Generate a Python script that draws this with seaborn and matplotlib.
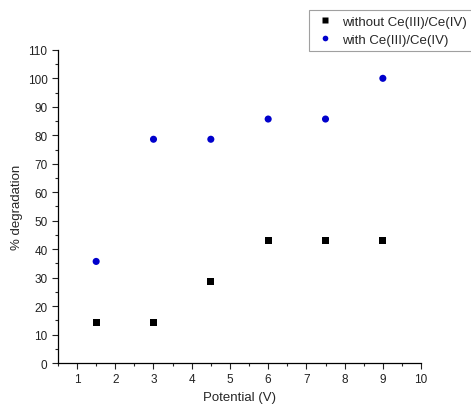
import matplotlib
matplotlib.use("Agg")
import matplotlib.pyplot as plt
import seaborn as sns
import pandas as pd
from matplotlib.ticker import MultipleLocator

# Data
potential = [1.5, 3.0, 4.5, 6.0, 7.5, 9.0]
without_ce = [14.3, 14.3, 28.6, 42.9, 42.9, 42.9]
with_ce = [35.7, 78.6, 78.6, 85.7, 85.7, 100.0]
series_names = ["without Ce(III)/Ce(IV)", "with Ce(III)/Ce(IV)"]

df = pd.DataFrame({
    "Potential": potential * 2,
    "Degradation": without_ce + with_ce,
    "Series": [series_names[0]] * len(potential) + [series_names[1]] * len(potential),
})

sns.set_style("ticks")
plt.rcParams["font.family"] = ["Liberation Sans", "DejaVu Sans"]

fig = plt.figure(figsize=(4.71, 4.10), dpi=100)
ax = fig.add_axes([0.123, 0.112, 0.771, 0.764])

sns.scatterplot(
    data=df, x="Potential", y="Degradation",
    hue="Series", style="Series",
    palette=["black", "#0000cc"],
    markers=["s", "o"],
    s=26, edgecolor="none", ax=ax, legend=True,
)

ax.set_xlim(0.5, 10)
ax.set_ylim(0, 110)
ax.xaxis.set_major_locator(MultipleLocator(1))
ax.xaxis.set_minor_locator(MultipleLocator(0.5))
ax.yaxis.set_major_locator(MultipleLocator(10))
ax.yaxis.set_minor_locator(MultipleLocator(5))
ax.tick_params(which="major", length=4, width=0.8, labelsize=8.5, colors="#222222")
ax.tick_params(which="minor", length=2.5, width=0.8)
sns.despine(ax=ax)
for sp in ["left", "bottom"]:
    ax.spines[sp].set_linewidth(0.9)
    ax.spines[sp].set_color("black")

ax.set_xlabel("Potential (V)", fontsize=9.5, labelpad=4)
ax.set_ylabel("% degradation", fontsize=9.5, labelpad=3)

handles, labels = ax.get_legend_handles_labels()
ax.legend_.remove()
leg = fig.legend(
    handles, labels, loc="lower left", bbox_to_anchor=(0.656, 0.873),
    fontsize=9.5, frameon=True, fancybox=False, edgecolor="#888888",
    handletextpad=0.5, borderpad=0.4, labelspacing=0.45, markerscale=0.8,
    handlelength=1.6, borderaxespad=0,
)
leg.get_frame().set_linewidth(0.8)

fig.savefig("out.png", dpi=100)
